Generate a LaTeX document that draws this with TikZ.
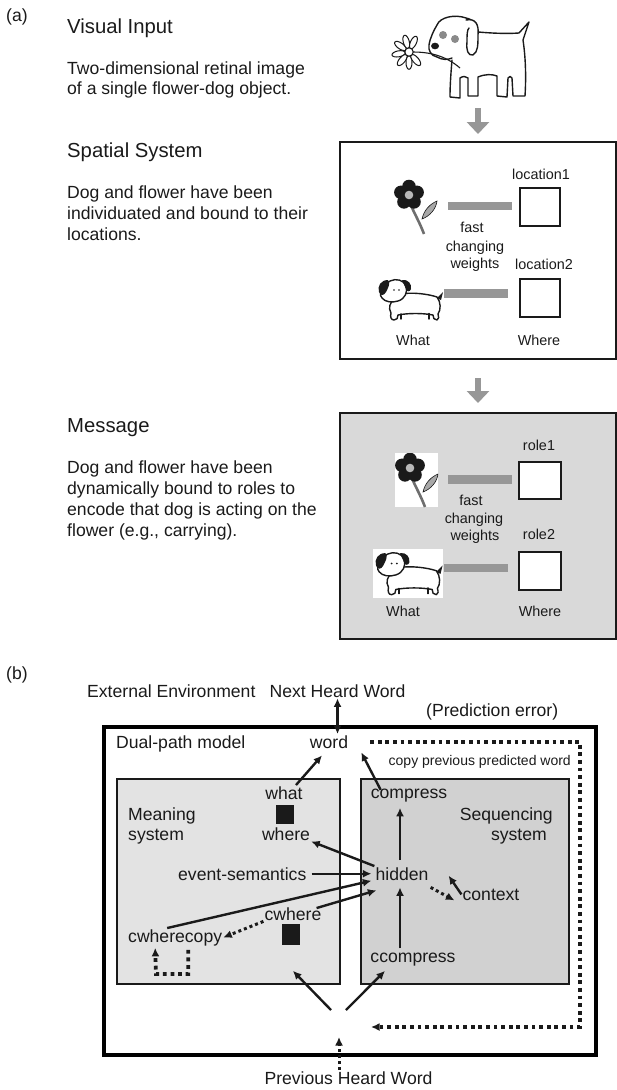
\documentclass[tikz,border=0pt]{standalone}
\usepackage{fontspec}
\setmainfont{Liberation Sans}
\usetikzlibrary{arrows.meta,calc}

\definecolor{ink}{HTML}{1A1A1A}
\definecolor{bargray}{HTML}{979797}
\definecolor{msgfill}{HTML}{D9D9D9}
\definecolor{meanfill}{HTML}{E3E3E3}
\definecolor{seqfill}{HTML}{D1D1D1}
\definecolor{stemgray}{HTML}{6E6E6E}
\definecolor{leafgray}{HTML}{A8A8A8}
\definecolor{eyegray}{HTML}{8A8A8A}

\newcommand{\fhead}{\fontsize{20.3}{24}\selectfont}
\newcommand{\fbody}{\fontsize{17.6}{21}\selectfont}
\newcommand{\flab}{\fontsize{14.4}{17}\selectfont}
\newcommand{\fnote}{\fontsize{14}{17}\selectfont}

\tikzset{
  heading/.style={anchor=base west, inner sep=0pt, font=\fhead, text=ink},
  para/.style={anchor=base west, inner sep=0pt, font=\fbody, text=ink},
  lbl/.style={anchor=base, inner sep=1pt, font=\flab, text=ink},
  term/.style={anchor=base, inner sep=1pt, font=\fbody, text=ink},
  panel/.style={draw=ink, line width=2pt, anchor=north west, inner sep=0pt},
  slot/.style={draw=ink, line width=1.8pt, fill=white, inner sep=0pt},
  unit/.style={fill=ink, inner sep=0pt},
  weight/.style={draw=bargray, line width=8.5pt},
  flow/.style={draw=bargray, line width=6pt, -{Triangle[length=12pt,width=22pt]}},
  conn/.style={draw=ink, line width=2.4pt, ->},
  dots/.style={draw=ink, line width=3pt, dash pattern=on 3pt off 3pt, ->},
  bigdots/.style={draw=ink, line width=3.8pt, dash pattern=on 3.8pt off 3.8pt},
  sketch/.style={draw=ink, line width=1.4pt, line join=round, line cap=round},
  pics/flower/.style={code={
    \draw[draw=ink, line width=0.6pt, fill=leafgray]
      (13,24) .. controls (15,15) and (21,9) .. (28,6)
      .. controls (27,14) and (21,21) .. (13,24) -- cycle;
    \draw[stemgray, line width=2.6pt] (1,8) .. controls (5,18) and (11,28) .. (15,39);
    \foreach \a in {-90,-18,54,126,198} \fill[ink] (\a:8.5) circle (6.8);
    \fill[leafgray!80!white] (0,0) circle (4.3);
  }},
  pics/puppy/.style={code={
    % body
    \draw[sketch, fill=white]
      (22,16) .. controls (35,14) and (50,16) .. (59,19)
      .. controls (63,24) and (63,32) .. (60,36)
      .. controls (61,39) and (61,41) .. (59,42)
      .. controls (56,42) and (55,40) .. (55,37)
      .. controls (45,35) and (30,35) .. (20,37)
      .. controls (20,40) and (19,42) .. (16,42)
      .. controls (13,42) and (12,39) .. (13,35)
      .. controls (10,30) and (12,24) .. (16,22) -- cycle;
    \draw[sketch] (23,36) -- (23,41);
    \draw[sketch] (51,35.5) -- (51,41);
    % head
    \draw[sketch, fill=white]
      (12,3) .. controls (18,0) and (26,2) .. (28,8)
      .. controls (30,14) and (27,21) .. (20,23)
      .. controls (14,25) and (7,24) .. (4,20)
      .. controls (1,17) and (3,13) .. (6,10)
      .. controls (7,7) and (9,4) .. (12,3) -- cycle;
    % ears, eyes, tail
    \fill[ink] (10,2) .. controls (3,2) and (-1,8) .. (1,14)
      .. controls (2,18) and (6,18) .. (8,14)
      .. controls (10,10) and (13,5) .. (10,2) -- cycle;
    \fill[ink] (24,2) .. controls (30,1) and (34,6) .. (33,11)
      .. controls (32,14) and (29,14) .. (28,11)
      .. controls (27,8) and (25,5) .. (24,2) -- cycle;
    \fill[ink] (16,12) circle (0.9);
    \fill[ink] (21,12) circle (0.9);
    \fill[ink] (59,20) -- (65,14) -- (63,22) -- cycle;
  }},
}

\begin{document}
\begin{tikzpicture}[x=1pt, y=-1pt, >={Latex[length=8.5pt,width=8pt]}]
\useasboundingbox (0,0) rectangle (617,1090);

% ================= panel (a) =================
\node (atag) [para] at (6,21) {(a)};

\node (vihead) [heading] at (67,33) {Visual Input};
\node (vi1) [para] at (67,74) {Two-dimensional retinal image};
\node (vi2) [para] at (67,94) {of a single flower-dog object.};

\node (sshead) [heading] at (67,157) {Spatial System};
\node (ss1) [para] at (67,198) {Dog and flower have been};
\node (ss2) [para] at (67,219) {individuated and bound to their};
\node (ss3) [para] at (67,240) {locations.};

\node (mshead) [heading] at (67,432) {Message};
\node (ms1) [para] at (67,473) {Dog and flower have been};
\node (ms2) [para] at (67,494) {dynamically bound to roles to};
\node (ms3) [para] at (67,515) {encode that dog is acting on the};
\node (ms4) [para] at (67,536) {flower (e.g., carrying).};

% line drawing: dog carrying a flower
\draw[sketch]
  (452,60) .. controls (451,72) and (450,85) .. (450,97)
  -- (460,98) -- (460,78)
  .. controls (463,76) and (466,76) .. (468,78)
  -- (468,96) -- (478,96) -- (478,77)
  .. controls (485,74) and (492,74) .. (497,76)
  -- (497,96) -- (507,97) -- (508,78)
  .. controls (509,76) and (511,76) .. (512,78)
  -- (513,96) -- (525,96)
  .. controls (526,80) and (526,60) .. (523,40)
  -- (529,22) -- (519,33)
  .. controls (505,34) and (490,33) .. (478,32);
\draw[sketch]
  (452,58) .. controls (448,60) and (442,60) .. (437,57)
  .. controls (431,56) and (428,50) .. (429,45)
  .. controls (430,38) and (434,30) .. (437,25)
  .. controls (440,17) and (455,14) .. (466,18)
  .. controls (470,19) and (472,20) .. (473,22);
\draw[sketch, fill=white]
  (466,20) .. controls (476,18) and (479,25) .. (478,35)
  .. controls (478,45) and (478,52) .. (473,55)
  .. controls (468,56) and (466,50) .. (467,42)
  .. controls (467,35) and (467,30) .. (469,28);
\fill[ink] (435,46) ellipse (4 and 3.3);
\fill[eyegray] (443,35) circle (4);
\fill[eyegray] (455,39) circle (4);
\draw[draw=ink, line width=1.1pt] (413,52) .. controls (428,52) and (445,55) .. (460,68);
\foreach \a in {-145,-105,-65,170,130,90,50}
  \draw[draw=ink, line width=1pt, fill=white, shift={(409,52)}, rotate=-\a]
    (10.5,0) ellipse (6.8 and 3);
\draw[draw=ink, line width=1.1pt, fill=white] (409,52) circle (4.2);
\coordinate (dogbase) at (478,108);

% spatial system panel
\node (spatial) [panel] at (339,141) [minimum width=276pt, minimum height=217pt] {};
\draw[flow] (dogbase) -- ([yshift=7pt]spatial.north);

\pic at (409,195) {flower};
\pic at (378,278) {puppy};

\node (slot1) [slot, minimum width=40pt, minimum height=38pt] at (540,207) {};
\node (slot2) [slot, minimum width=40pt, minimum height=38pt] at (540,298) {};
\coordinate (w1) at (448,206);
\coordinate (w2) at (444,293.5);
\draw[weight, shorten >=7pt] (w1) -- (w1 -| slot1.west);
\draw[weight, shorten >=11pt] (w2) -- (w2 -| slot2.west);

\node (loc1) [lbl] at (541,179) {location1};
\node (loc2) [lbl] at (544,269) {location2};
\node (fcw1) [lbl] at (472,232) {fast};
\node (fcw2) [lbl] at (475,251) {changing};
\node (fcw3) [lbl] at (475,268) {weights};
\node (what1) [lbl] at (413,345) {What};
\node (where1) [lbl] at (539,345) {Where};

% message panel
\node (message) [panel, fill=msgfill, minimum width=276pt, minimum height=226pt] at (339,412) {};
\draw[flow] ([yshift=-18pt]spatial.south) -- ([yshift=9pt]message.north);

\fill[white] (395,453) rectangle (438,507);
\begin{scope}
  \clip (395,453) rectangle (438,507);
  \pic at (410,468) {flower};
\end{scope}
\fill[white] (373,549) rectangle (443,598);
\pic[scale=1.04] at (375,551) {puppy};

\node (slot3) [slot, minimum width=42pt, minimum height=37pt] at (540,480.5) {};
\node (slot4) [slot, minimum width=42pt, minimum height=38pt] at (540,571) {};
\coordinate (w3) at (448,479.5);
\coordinate (w4) at (444,568);
\draw[weight, shorten >=6pt] (w3) -- (w3 -| slot3.west);
\draw[weight, shorten >=10pt] (w4) -- (w4 -| slot4.west);

\node (role1) [lbl] at (539,450) {role1};
\node (role2) [lbl] at (539,539) {role2};
\node (fcw4) [lbl] at (471,505) {fast};
\node (fcw5) [lbl] at (474,523) {changing};
\node (fcw6) [lbl] at (475,540) {weights};
\node (what2) [lbl] at (403,616) {What};
\node (where2) [lbl] at (540,616) {Where};

% ================= panel (b) =================
\node (btag) [para] at (6,679) {(b)};
\node (extenv) [term, anchor=base west] at (86,697) {External Environment};
\node (nexthw) [term] at (337.5,697) {Next Heard Word};
\node (prederr) [term, anchor=base west] at (425,716) {(Prediction error)};

\node (model) [draw=black, line width=4pt, anchor=north west, inner sep=0pt,
  minimum width=492pt, minimum height=328pt] at (102,725) {};
\node (meaning) [panel, line width=1.8pt, fill=meanfill, minimum width=223pt, minimum height=205pt] at (116,778) {};
\node (sequencing) [panel, line width=1.8pt, fill=seqfill, minimum width=208pt, minimum height=205pt] at (360,778) {};

\node (dual) [term, anchor=base west] at (115,748) {Dual-path model};
\node (word) [term] at (329,748) {word};
\node (copyprev) [anchor=base east, inner sep=0pt, font=\fnote, text=ink] at (571,765) {copy previous predicted word};

\node (mean1) [term, anchor=base west] at (127,820) {Meaning};
\node (mean2) [term, anchor=base west] at (127,840) {system};
\node (seq1) [term, anchor=base east] at (554,820) {Sequencing};
\node (seq2) [term, anchor=base east] at (548,840) {system};

\node (what) [term] at (284,799) {what};
\node (whatunit) [unit, minimum width=18pt, minimum height=19pt] at (285,814.5) {};
\node (where) [term] at (286,840) {where};
\node (compress) [term] at (409,798) {compress};
\node (hidden) [term] at (402,880) {hidden};
\node (evsem) [term, anchor=base west] at (177,880) {event-semantics};
\node (context) [term] at (491,900) {context};
\node (cwhere) [term] at (293,920) {cwhere};
\node (cwhereunit) [unit, minimum width=18pt, minimum height=21pt] at (291,934.5) {};
\node (cwcopy) [term, anchor=base west] at (127,942) {cwherecopy};
\node (ccompress) [term] at (413,962) {ccompress};
\node (prevhw) [term] at (348.5,1084) {Previous Heard Word};

% connectors
\draw[conn, <->] (nexthw.south) -- (nexthw.south |- word.north);
\coordinate (pecorner) at (580,1027);
\coordinate (peend) at (371,1027);
\draw[bigdots, ->] ([xshift=21pt]word.east) -| (pecorner) -- (peend);

\draw[conn] ([xshift=12pt]what.north) -- ([xshift=-7pt,yshift=-6pt]word.south);
\draw[conn] ([xshift=11pt,yshift=-2.5pt]compress.north west) -- ([xshift=12pt,yshift=-3pt]word.south east);
\draw[conn] ([xshift=-2pt,yshift=6pt]hidden.north) -- ([xshift=-9pt,yshift=-5pt]compress.south);
\draw[conn] (hidden.north west) -- (where.south east);
\draw[conn, shorten >=3pt] ([xshift=4pt]evsem.east) -- (hidden.west);
\draw[conn] ([xshift=-8pt]cwcopy.north) -- ([xshift=-3pt,yshift=-7pt]hidden.west);
\draw[conn] ([xshift=-6pt,yshift=-2pt]cwhere.north east) -- ([xshift=2pt,yshift=-9pt]hidden.south west);
\draw[conn] (context.west) -- ([xshift=19pt,yshift=-2pt]hidden.east);
\draw[dots] ([xshift=1pt,yshift=-6pt]hidden.south east) -- ([xshift=-7pt,yshift=-6pt]context.west);
\draw[conn] ([xshift=-13pt,yshift=3pt]ccompress.north) -- ([xshift=-2pt,yshift=-6pt]hidden.south);
\draw[dots] (cwhere.south west) -- (cwcopy.east);

\coordinate (loopfoot) at (156,974);
\draw[bigdots, ->] ([xshift=13pt,yshift=-3pt]cwcopy.south) |- (loopfoot) -- ([xshift=-20pt,yshift=-1pt]cwcopy.south);

\coordinate (inleft) at (331,1010);
\coordinate (inright) at (346,1010);
\coordinate (inword) at (339,1037);
\draw[conn] (inleft) -- ([xshift=64.5pt,yshift=14pt]meaning.south);
\draw[conn] (inright) -- ([xshift=-28pt,yshift=-4pt]ccompress.south);
\draw[dots] ([xshift=-9.5pt]prevhw.north) -- (inword);

\end{tikzpicture}
\end{document}
